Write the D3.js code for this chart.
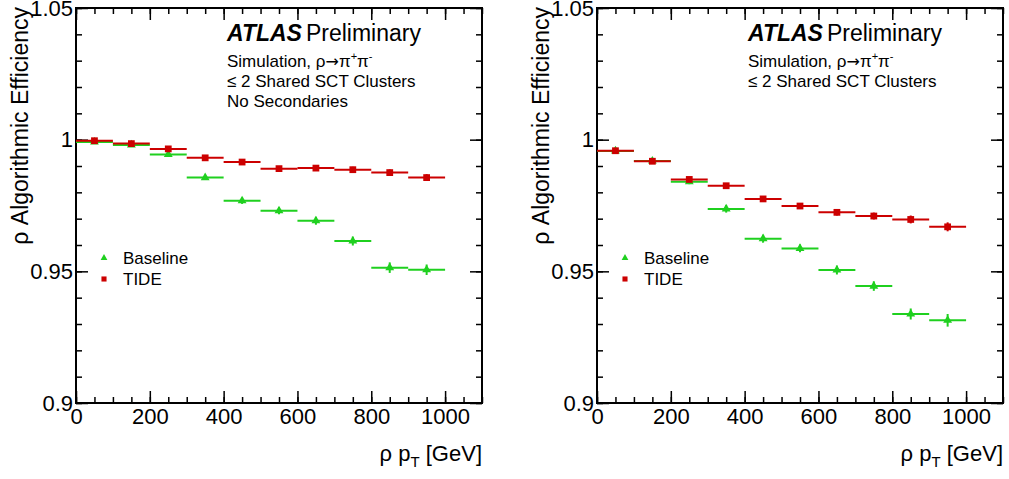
<!DOCTYPE html>
<html>
<head>
<meta charset="utf-8">
<script src="https://cdn.jsdelivr.net/npm/d3@7"></script>
<style>
  body { margin: 0; background: #fff; }
  svg { display: block; font-family: "Liberation Sans", Arial, sans-serif; }
  .tick text { font-size: 22px; fill: #000; }
  .tick line { stroke: #000; stroke-width: 1.5; }
</style>
</head>
<body>
<svg width="1009" height="479"></svg>
<script>
// bin centres of the rho pT histogram (100 GeV bins)
const binCenters = [50, 150, 250, 350, 450, 550, 650, 750, 850, 950];
const binWidth = 100;

// left panel: no secondaries
const leftBaseline = [0.9991, 0.9980, 0.9944, 0.9856, 0.9768, 0.9730, 0.9692, 0.9615, 0.9514, 0.9506];
const leftBaselineErr = [0.0004, 0.0005, 0.0006, 0.0008, 0.0012, 0.0013, 0.0015, 0.0017, 0.0020, 0.0020];
const leftTide = [0.9996, 0.9985, 0.9965, 0.9931, 0.9915, 0.9890, 0.9892, 0.9886, 0.9875, 0.9856];
const leftTideErr = [0.0003, 0.0004, 0.0005, 0.0007, 0.0008, 0.0009, 0.0010, 0.0011, 0.0012, 0.0013];

// right panel
const rightBaseline = [0.9957, 0.9919, 0.9840, 0.9737, 0.9624, 0.9587, 0.9505, 0.9444, 0.9338, 0.9314];
const rightBaselineErr = [0.0005, 0.0007, 0.0009, 0.0014, 0.0015, 0.0015, 0.0017, 0.0018, 0.0021, 0.0024];
const rightTide = [0.9958, 0.9918, 0.9849, 0.9825, 0.9775, 0.9748, 0.9724, 0.9710, 0.9697, 0.9669];
const rightTideErr = [0.0004, 0.0005, 0.0007, 0.0009, 0.0010, 0.0011, 0.0012, 0.0013, 0.0015, 0.0017];

const xMajor = [0, 200, 400, 600, 800, 1000];
const xMinor = d3.range(0, 1101, 50);
const yMajor = [0.9, 0.95, 1, 1.05];
const yMinor = d3.range(90, 106, 1).map(v => v / 100);

const legendLabels = ['Baseline', 'TIDE'];
const green = '#1fd01f';
const red = '#cc0000';

const svg = d3.select('svg');
const yTop = 8, yBottom = 403, plotW = 406;

const x = d3.scaleLinear().domain([0, 1100]).range([0, plotW]);
const y = d3.scaleLinear().domain([0.9, 1.05]).range([yBottom, yTop]);
const fmtY = d => d === 1 ? '1' : String(d);

function drawPanel(left, baseline, baseErr, tide, tideErr, extraLines) {
  const g = svg.append('g').attr('transform', `translate(${left},0)`);

  // ticks on all four sides, pointing inwards
  g.append('g').attr('transform', `translate(0,${yBottom})`)
    .call(d3.axisBottom(x).tickValues(xMajor).tickSize(-12).tickSizeOuter(0).tickPadding(5).tickFormat(d3.format('d')));
  g.append('g').attr('transform', `translate(0,${yBottom})`)
    .call(d3.axisBottom(x).tickValues(xMinor).tickSize(-6).tickSizeOuter(0).tickFormat(''));
  g.append('g').attr('transform', `translate(0,${yTop})`)
    .call(d3.axisTop(x).tickValues(xMajor).tickSize(-12).tickSizeOuter(0).tickFormat(''));
  g.append('g').attr('transform', `translate(0,${yTop})`)
    .call(d3.axisTop(x).tickValues(xMinor).tickSize(-6).tickSizeOuter(0).tickFormat(''));
  g.append('g')
    .call(d3.axisLeft(y).tickValues(yMajor).tickSize(-12).tickSizeOuter(0).tickPadding(3).tickFormat(fmtY));
  g.append('g')
    .call(d3.axisLeft(y).tickValues(yMinor).tickSize(-6).tickSizeOuter(0).tickFormat(''));
  g.append('g').attr('transform', `translate(${plotW},0)`)
    .call(d3.axisRight(y).tickValues(yMajor).tickSize(-12).tickSizeOuter(0).tickFormat(''));
  g.append('g').attr('transform', `translate(${plotW},0)`)
    .call(d3.axisRight(y).tickValues(yMinor).tickSize(-6).tickSizeOuter(0).tickFormat(''));
  g.selectAll('.domain').remove();
  g.selectAll('.tick text').attr('font-family', '"Liberation Sans", Arial, sans-serif');

  g.append('rect')
    .attr('x', 0).attr('y', yTop)
    .attr('width', plotW).attr('height', yBottom - yTop)
    .attr('fill', 'none').attr('stroke', '#000').attr('stroke-width', 2);

  // axis titles
  g.append('text')
    .attr('transform', `translate(-48,${yTop - 1}) rotate(-90)`)
    .attr('text-anchor', 'end')
    .attr('font-size', 23)
    .text('ρ Algorithmic Efficiency');

  const xt = g.append('text')
    .attr('x', plotW).attr('y', 461)
    .attr('text-anchor', 'end')
    .attr('font-size', 22);
  xt.append('tspan').text('ρ p');
  xt.append('tspan').attr('font-size', 15).attr('dy', 6).text('T');
  xt.append('tspan').attr('dy', -6).text(' [GeV]');

  // series
  const series = [
    { vals: baseline, errs: baseErr, color: green, shape: d3.symbolTriangle },
    { vals: tide, errs: tideErr, color: red, shape: d3.symbolSquare }
  ];
  series.forEach(s => {
    const pts = binCenters.map((c, i) => ({ c: c, v: s.vals[i], e: s.errs[i] }));
    const sg = g.append('g');
    sg.selectAll('line.h').data(pts).enter().append('line')
      .attr('x1', d => x(d.c - binWidth / 2)).attr('x2', d => x(d.c + binWidth / 2))
      .attr('y1', d => y(d.v)).attr('y2', d => y(d.v))
      .attr('stroke', s.color).attr('stroke-width', 2);
    sg.selectAll('line.v').data(pts).enter().append('line')
      .attr('x1', d => x(d.c)).attr('x2', d => x(d.c))
      .attr('y1', d => y(d.v - d.e)).attr('y2', d => y(d.v + d.e))
      .attr('stroke', s.color).attr('stroke-width', 2);
    sg.selectAll('path').data(pts).enter().append('path')
      .attr('d', d3.symbol().type(s.shape).size(s.shape === d3.symbolSquare ? 46 : 34))
      .attr('transform', d => `translate(${x(d.c)},${y(d.v)})`)
      .attr('fill', s.color);
  });

  // ATLAS label
  const at = g.append('text').attr('x', 151).attr('y', 41).attr('font-size', 23);
  at.append('tspan').attr('font-weight', 'bold').attr('font-style', 'italic').text('ATLAS');
  at.append('tspan').attr('dx', 4).text('Preliminary');

  const sim = g.append('text').attr('x', 151).attr('y', 67).attr('font-size', 17);
  sim.append('tspan').text('Simulation, ρ');
  sim.append('tspan').attr('font-family', '"DejaVu Sans", sans-serif').attr('font-size', 16).text('→');
  sim.append('tspan').text('π');
  sim.append('tspan').attr('font-size', 11).attr('dy', -7).text('+');
  sim.append('tspan').attr('dy', 7).text('π');
  sim.append('tspan').attr('font-size', 11).attr('dy', -7).text('-');
  extraLines.forEach((t, i) => {
    g.append('text').attr('x', 151).attr('y', 87 + 20 * i).attr('font-size', 17).text(t);
  });

  // legend
  series.forEach((s, i) => {
    g.append('path')
      .attr('d', d3.symbol().type(s.shape).size(s.shape === d3.symbolSquare ? 26 : 20))
      .attr('transform', `translate(28,${258 + 21 * i})`)
      .attr('fill', s.color);
    g.append('text').attr('x', 47).attr('y', 264 + 21 * i).attr('font-size', 17).text(legendLabels[i]);
  });
}

drawPanel(76, leftBaseline, leftBaselineErr, leftTide, leftTideErr,
  ['≤ 2 Shared SCT Clusters', 'No Secondaries']);
drawPanel(597, rightBaseline, rightBaselineErr, rightTide, rightTideErr,
  ['≤ 2 Shared SCT Clusters']);
</script>
</body>
</html>
